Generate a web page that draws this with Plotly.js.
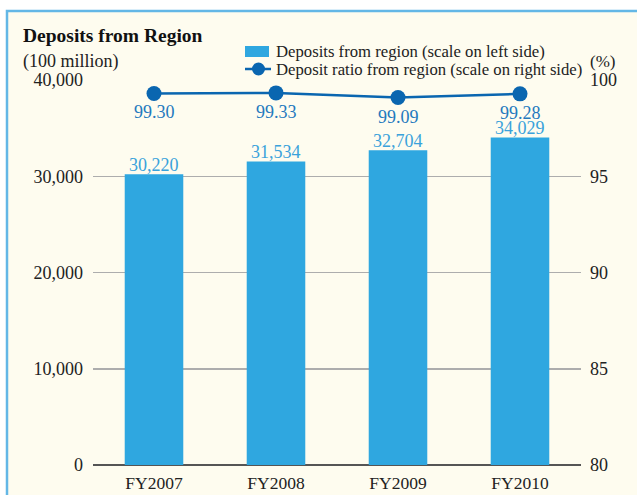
<!DOCTYPE html>
<html><head><meta charset="utf-8">
<script src="https://cdn.plot.ly/plotly-3.0.1.min.js"></script>
<style>html,body{margin:0;padding:0;background:#fff}#c{width:637px;height:495px}</style>
</head><body><div id="c"></div>
<script>
const categories = ['FY2007','FY2008','FY2009','FY2010'];
const deposits = [30220, 31534, 32704, 34029];
const ratios = [99.30, 99.33, 99.09, 99.28];
const leftTicks = [0, 10000, 20000, 30000, 40000];
const rightTicks = [80, 85, 90, 95, 100];
const seriesNames = ['Deposits from region (scale on left side)', 'Deposit ratio from region (scale on right side)'];

const F = 'Liberation Serif';
const L = 93, R = 581, T = 80, B = 465;
const px = x => (x - L) / (R - L);
const py = y => (B - y) / (B - T);
const BAR = '#2FA7E0', LINE = '#0A66B0';

const traces = [
  {type:'bar', x:categories, y:deposits, name:seriesNames[0],
   marker:{color:BAR}, width:0.48, hoverinfo:'none', showlegend:false},
  {type:'scatter', mode:'lines+markers', x:categories, y:ratios, yaxis:'y2',
   name:seriesNames[1], cliponaxis:false,
   line:{color:LINE, width:2.5}, marker:{color:LINE, size:15},
   hoverinfo:'none', showlegend:false}
];

const barLabels = categories.map((c,i)=>({xref:'x', yref:'y', x:c, y:deposits[i],
  xanchor:'center', yanchor:'bottom', yshift:-2, borderpad:0, showarrow:false,
  text:deposits[i].toLocaleString('en-US'), font:{family:F, size:18, color:'#3AA2DB'}}));
const ratioLabels = categories.map((c,i)=>({xref:'x', yref:'y2', x:c, y:ratios[i],
  xanchor:'center', yanchor:'top', yshift:-8, borderpad:0, showarrow:false,
  text:ratios[i].toFixed(2), font:{family:F, size:18, color:'#2479BE'}}));

const layout = {
  width:637, height:495,
  margin:{l:L, r:637-R, t:T, b:495-B},
  paper_bgcolor:'#ffffff', plot_bgcolor:'rgba(0,0,0,0)',
  font:{family:F, size:17, color:'#222'},
  showlegend:false,
  xaxis:{type:'category', showgrid:false, zeroline:false, showline:false, ticks:'',
    tickfont:{family:F, size:17.5, color:'#222'}, ticklabelstandoff:5},
  yaxis:{range:[0,40000], tickvals:leftTicks, ticktext:leftTicks.map(v=>v.toLocaleString('en-US')),
    showgrid:true, gridcolor:'#ADADAD', gridwidth:1.5, zeroline:true, zerolinecolor:'#555', zerolinewidth:2,
    showline:false, ticks:'', tickfont:{family:F, size:18, color:'#222'}, ticklabelstandoff:9},
  yaxis2:{range:[80,100], overlaying:'y', side:'right', tickvals:rightTicks,
    showgrid:false, zeroline:false, showline:false, ticks:'', tickfont:{family:F, size:18, color:'#222'}, ticklabelstandoff:8},
  shapes:[
    {type:'rect', xref:'paper', yref:'paper', x0:px(7), x1:px(660), y0:py(520), y1:py(11),
     fillcolor:'#FEFCEF', line:{color:'#63B7E6', width:2.5}, layer:'below'},
    {type:'rect', xref:'paper', yref:'paper', x0:px(245), x1:px(269), y0:py(57), y1:py(46),
     fillcolor:BAR, line:{width:0}},
    {type:'line', xref:'paper', yref:'paper', x0:px(245), x1:px(271), y0:py(69), y1:py(69),
     line:{color:LINE, width:2.5}},
    {type:'circle', xref:'paper', yref:'paper', x0:px(252), x1:px(265), y0:py(75.5), y1:py(62.5),
     fillcolor:LINE, line:{width:0}}
  ],
  annotations:[
    {xref:'paper', yref:'paper', x:px(21), y:py(35), xanchor:'left', yanchor:'middle', showarrow:false,
     text:'<b>Deposits from Region</b>', font:{family:F, size:19.5, color:'#111'}},
    {xref:'paper', yref:'paper', x:px(21), y:py(62), xanchor:'left', yanchor:'middle', showarrow:false,
     text:'(100 million)', font:{family:F, size:18, color:'#222'}},
    {xref:'paper', yref:'paper', x:px(588), y:py(61), xanchor:'left', yanchor:'middle', showarrow:false,
     text:'(%)', font:{family:F, size:17, color:'#222'}},
    {xref:'paper', yref:'paper', x:px(274), y:py(52), xanchor:'left', yanchor:'middle', showarrow:false,
     text:seriesNames[0], font:{family:F, size:16.7, color:'#222'}},
    {xref:'paper', yref:'paper', x:px(274), y:py(69), xanchor:'left', yanchor:'middle', showarrow:false,
     text:seriesNames[1], font:{family:F, size:16.7, color:'#222'}}
  ].concat(barLabels, ratioLabels)
};
Plotly.newPlot('c', traces, layout, {displayModeBar:false, staticPlot:true});
</script></body></html>
